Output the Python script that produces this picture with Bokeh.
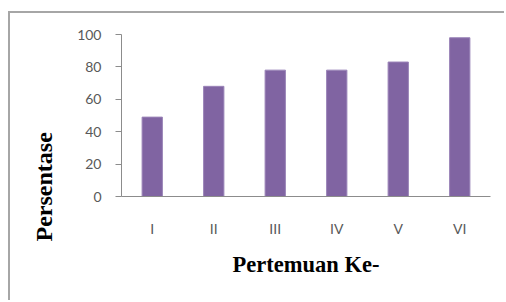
from bokeh.plotting import figure
from bokeh.models import FactorRange, Range1d, Title, FixedTicker
from bokeh.embed import file_html
from bokeh.resources import INLINE

categories = ["I", "II", "III", "IV", "V", "VI"]
values = [49, 68, 78, 78, 83, 98]
y_ticks = [0, 20, 40, 60, 80, 100]

# canvas placed at page (10, 13) by the border/margin styles below
p = figure(width=496, height=289, x_range=FactorRange(*categories, range_padding=0),
           y_range=Range1d(0, 100), output_backend="svg", toolbar_location=None,
           min_border_left=111, min_border_right=16, min_border_top=21, min_border_bottom=106,
           styles={"border-left": "2px solid #a6a6a6", "border-top": "2px solid #a6a6a6",
                   "margin-left": "8px", "margin-top": "11px"})

p.vbar(x=categories, top=values, width=0.33, fill_color="#8064A2", line_color="#9a84b8", line_width=1)

p.xgrid.visible = False
p.ygrid.visible = False
p.outline_line_color = None
p.background_fill_color = "white"
p.border_fill_color = "white"

ax = p.yaxis[0]
ax.ticker = FixedTicker(ticks=y_ticks)
ax.minor_tick_line_color = None
ax.major_tick_in = 0
ax.major_tick_out = 6
ax.axis_line_color = "#8c8c8c"
ax.major_tick_line_color = "#8c8c8c"
ax.major_label_text_font = "Lato"
ax.major_label_text_font_size = "14px"
ax.major_label_text_color = "#595959"
ax.major_label_standoff = 14

xa = p.xaxis[0]
xa.major_tick_in = 0
xa.major_tick_out = 0
xa.minor_tick_line_color = None
xa.axis_line_color = "#8c8c8c"
xa.major_label_text_font = "Lato"
xa.major_label_text_font_size = "14px"
xa.major_label_text_color = "#595959"
xa.major_label_standoff = 23
xa.axis_label = "Pertemuan Ke-"
xa.axis_label_text_font = "Liberation Serif"
xa.axis_label_text_font_style = "bold"
xa.axis_label_text_font_size = "22.5px"
xa.axis_label_text_color = "black"
xa.axis_label_standoff = 12

ytitle = Title(text="Persentase", align="left", offset=-45, standoff=36,
               text_font="Liberation Serif", text_font_style="bold",
               text_font_size="24px", text_color="black")
p.add_layout(ytitle, "left")

open("out.html", "w").write(file_html(p, INLINE))
